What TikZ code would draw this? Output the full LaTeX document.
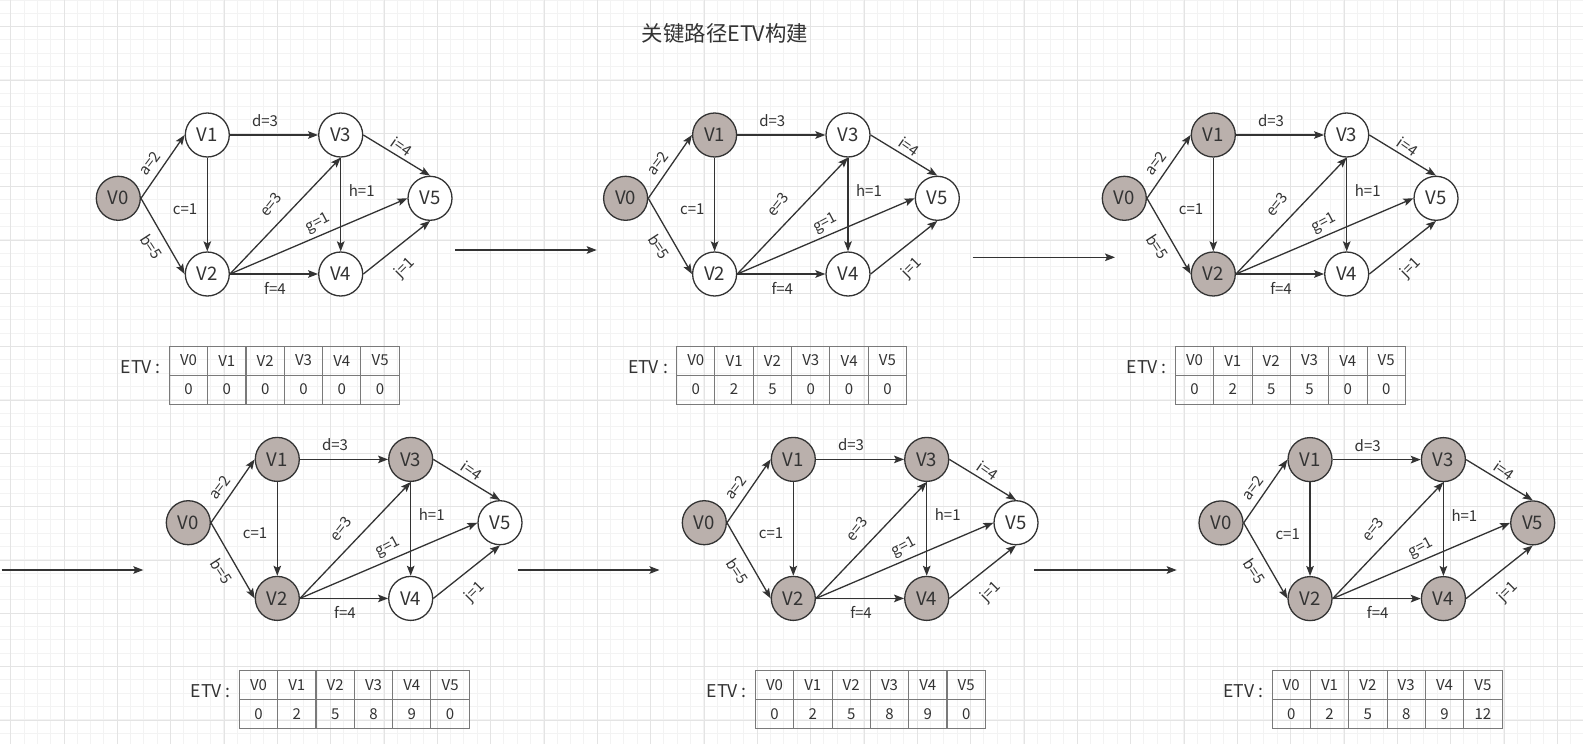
\documentclass[tikz,border=0pt]{standalone}
\usepackage{fontspec}
\setmainfont{Noto Sans CJK SC}
\usetikzlibrary{arrows.meta}
\definecolor{vfill}{HTML}{BAB0AC}
\definecolor{ink}{HTML}{333333}
\definecolor{tabline}{HTML}{7A7A7A}
\definecolor{gminor}{HTML}{F3F3F3}
\definecolor{gmajor}{HTML}{E4E4E4}
\tikzset{
  vert/.style={circle, draw=ink, line width=0.65pt, minimum size=22pt, inner sep=0pt, text=ink, font=\fontsize{9.3pt}{11pt}\selectfont},
  edge/.style={draw=ink, line width=0.65pt, -{Stealth[length=5pt,width=3.8pt,inset=1pt]}},
  elab/.style={text=ink, font=\fontsize{7.5pt}{9pt}\selectfont, inner sep=0pt},
  cell/.style={draw=tabline, line width=0.5pt, minimum width=19.17pt, minimum height=14.5pt, inner sep=0pt, text=ink, font=\fontsize{7.5pt}{9pt}\selectfont},
  etvlab/.style={text=ink, font=\fontsize{8.8pt}{10pt}\selectfont, inner sep=0pt},
  titlelab/.style={text=ink, font=\fontsize{10.7pt}{12pt}\selectfont, inner sep=0pt},
  gminorline/.style={draw=gminor, line width=0.5pt},
  gmajorline/.style={draw=gmajor, line width=0.5pt},
}
\newcommand\drawpanel[9]{%
\begin{scope}[shift={(#1,#2)}]
  \foreach \i/\px/\py in {0/118.3/198.3,1/207.3/135,2/207.3/274,3/340.7/135,4/340.7/274,5/430/198.3}{%
    \ifnum\i<#4\relax\def\fc{vfill}\else\def\fc{white}\fi
    \node[vert, fill=\fc] (#3V\i) at (\px,\py) {V\i};
  }
  \draw[edge] (#3V0.east) -- (#3V1.west);
  \draw[edge] (#3V0.east) -- (#3V2.west);
  \draw[edge] (#3V1.south) -- (#3V2.north);
  \draw[edge] (#3V1.east) -- (#3V3.west);
  \draw[edge] (#3V2.east) -- (#3V3.south);
  \draw[edge] (#3V2.east) -- (#3V4.west);
  \draw[edge] (#3V2.east) -- (#3V5.west);
  \draw[edge] (#3V3.south) -- (#3V4.north);
  \draw[edge] (#3V3.east) -- (#3V5.north);
  \draw[edge] (#3V4.east) -- (#3V5.south);
  \node[elab, rotate=53] (#3la) at (150,163.3) {a=2};
  \node[elab, rotate=-57] (#3lb) at (151.7,246.7) {b=5};
  \node[elab] (#3lc) at (185,209.3) {c=1};
  \node[elab] (#3ld) at (265,120.7) {d=3};
  \node[elab, rotate=52] (#3le) at (270.5,204.5) {e=3};
  \node[elab, rotate=28] (#3lg) at (318.3,223.5) {g=1};
  \node[elab] (#3lh) at (361.7,190.5) {h=1};
  \node[elab, rotate=-35] (#3li) at (401.7,146.2) {i=4};
  \node[elab, rotate=45] (#3lj) at (405,268) {j=1};
  \node[elab] (#3lf) at (275,288) {f=4};
  \node[etvlab, anchor=east] (#3etv) at (161,367) {ETV :};
  \foreach \c/\val in {0/0,1/#5,2/#6,3/#7,4/#8,5/#9}{%
    \node[cell] (#3h\c) at ({188.5+38.33*\c},360.5) {V\c};
    \node[cell] (#3d\c) at ({188.5+38.33*\c},389.5) {\val};
  }
\end{scope}}
\begin{document}
\begin{tikzpicture}[x=0.5pt,y=-0.5pt]
\useasboundingbox (0,0) rectangle (1583,744);
\fill[white] (0,0) rectangle (1583,744);
\foreach \k in {0,...,118}{\draw[gminorline] ({10.667+13.333*\k},0) -- ({10.667+13.333*\k},744);}
\foreach \k in {0,...,55}{\draw[gminorline] (0,{13.333*\k}) -- (1583,{13.333*\k});}
\foreach \k in {0,...,29}{\draw[gmajorline] ({10.667+53.333*\k},0) -- ({10.667+53.333*\k},744);}
\foreach \k in {0,...,13}{\draw[gmajorline] (0,{26.667+53.333*\k}) -- (1583,{26.667+53.333*\k});}
\node[titlelab] (title) at (725,33.3) {关键路径ETV构建};
\drawpanel{0}{0}{p}{1}{0}{0}{0}{0}{0}
\drawpanel{507.3}{0}{q}{2}{2}{5}{0}{0}{0}
\drawpanel{1006}{0}{r}{3}{2}{5}{5}{0}{0}
\drawpanel{70}{324.4}{s}{4}{2}{5}{8}{9}{0}
\drawpanel{586}{324.4}{t}{5}{2}{5}{8}{9}{0}
\drawpanel{1102.7}{324.6}{u}{6}{2}{5}{8}{9}{12}
\coordinate (a1s) at (455,250);
\coordinate (a1e) at (596.7,250);
\coordinate (a2s) at (972.7,257.3);
\coordinate (a2e) at (1115,257.3);
\coordinate (a3s) at (1.7,570);
\coordinate (a3e) at (143.3,570);
\coordinate (a4s) at (518.3,570);
\coordinate (a4e) at (659.5,570);
\coordinate (a5s) at (1034,570);
\coordinate (a5e) at (1176.7,570);
\draw[edge] (a1s) -- (a1e);
\draw[edge] (a2s) -- (a2e);
\draw[edge] (a3s) -- (a3e);
\draw[edge] (a4s) -- (a4e);
\draw[edge] (a5s) -- (a5e);
\end{tikzpicture}
\end{document}
